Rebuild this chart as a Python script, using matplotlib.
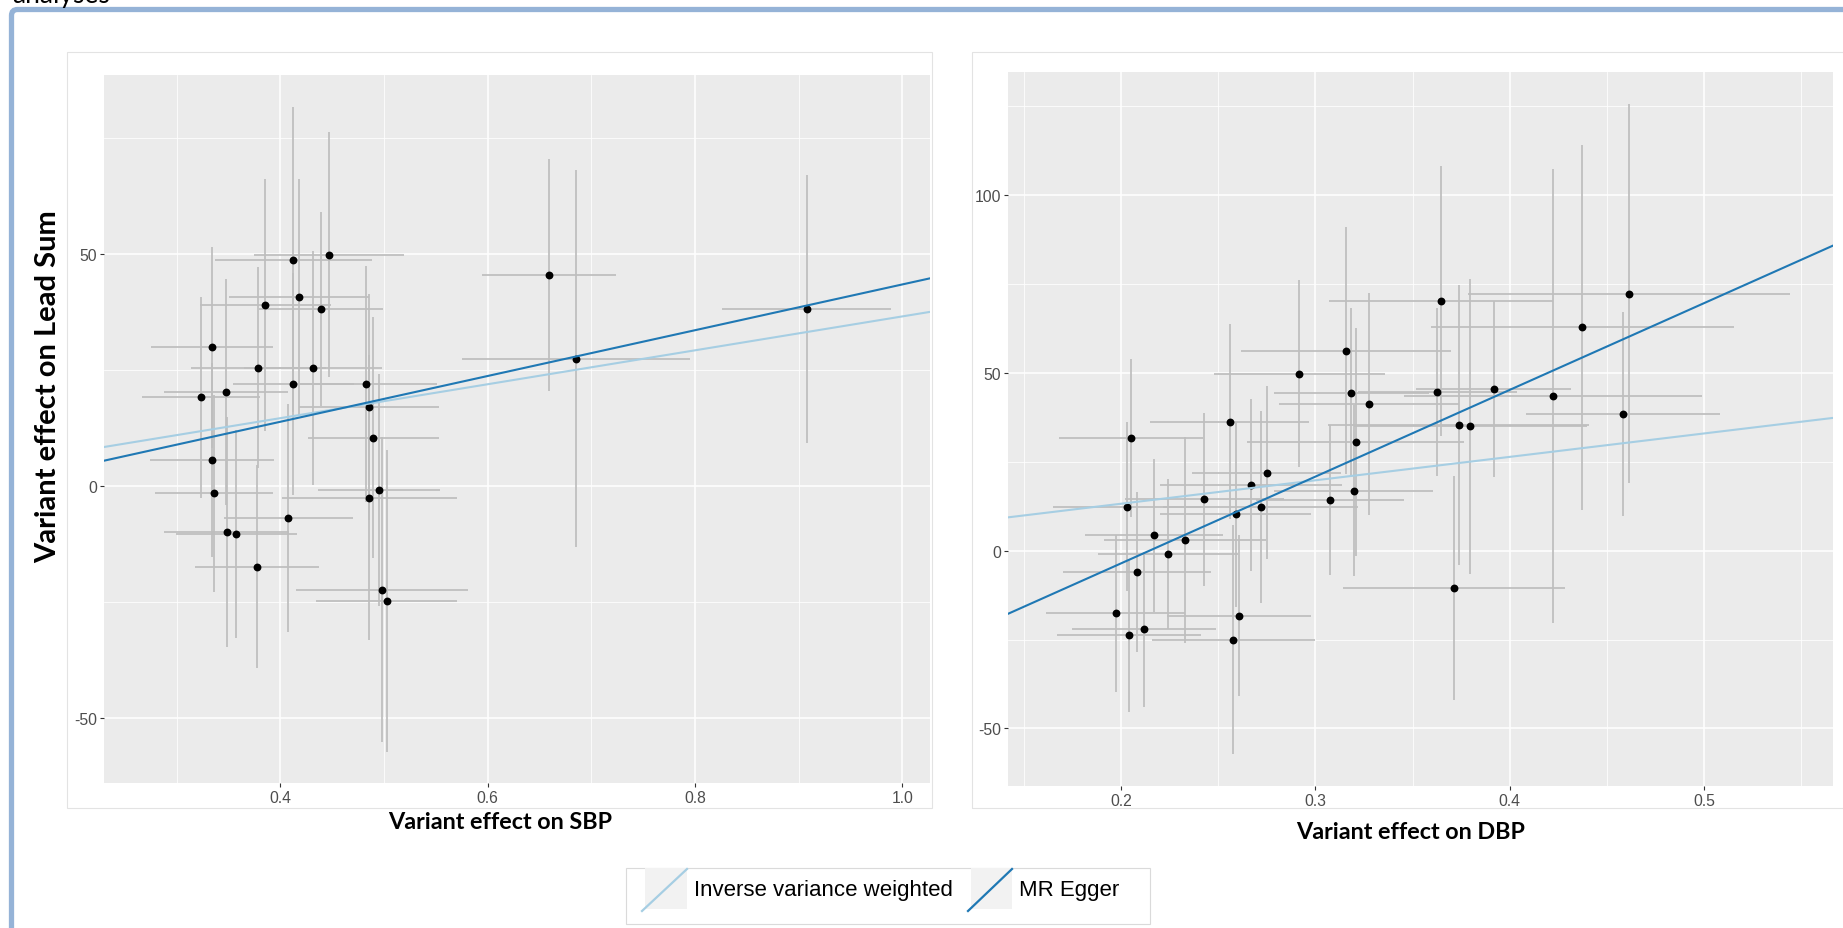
import matplotlib
matplotlib.use("Agg")
import matplotlib.pyplot as plt
from matplotlib.patches import Rectangle, FancyBboxPatch
from matplotlib.lines import Line2D
from matplotlib.transforms import IdentityTransform

plt.rcParams['font.family'] = ['Liberation Sans', 'DejaVu Sans']
plt.rcParams['axes.unicode_minus'] = False

W, H = 1843, 929

# --- SBP panel: per-variant effect on SBP (x) and on lead sum (y), with SEs
sbp_x = [0.4125, 0.447, 0.4177, 0.3855, 0.439, 0.3338, 0.3788, 0.4318, 0.4125,
         0.483, 0.3476, 0.3235, 0.4859, 0.4897, 0.3338, 0.3357, 0.4949, 0.4859,
         0.4077, 0.3482, 0.3576, 0.3775, 0.498, 0.5026, 0.659, 0.685, 0.908]
sbp_x_se = [0.0755, 0.0725, 0.0675, 0.063, 0.060, 0.0587, 0.065, 0.0665, 0.0585,
            0.0685, 0.0595, 0.057, 0.0675, 0.0634, 0.060, 0.057, 0.059, 0.0843,
            0.0624, 0.060, 0.058, 0.0595, 0.0828, 0.068, 0.0645, 0.110, 0.0815]
sbp_y = [48.85, 49.9, 40.8, 39.1, 38.2, 29.9, 25.5, 25.5, 22.0,
         22.0, 20.3, 19.1, 17.05, 10.4, 5.6, -1.6, -0.8, -2.5,
         -6.9, -10.0, -10.4, -17.4, -22.4, -24.8, 45.5, 27.5, 38.2]
sbp_y_se = [32.9, 26.4, 25.5, 27.2, 21.0, 21.6, 21.7, 25.3, 24.0,
            25.4, 24.4, 21.6, 24.4, 26.0, 21.0, 21.3, 25.0, 30.7,
            24.6, 24.8, 22.4, 21.9, 32.9, 32.6, 25.0, 40.6, 29.0]
sbp_ivw_slope = 36.6
sbp_egger_slope = 49.4
sbp_egger_int = -5.9

# --- DBP panel
dbp_x = [0.4614, 0.3646, 0.4374, 0.3157, 0.2917, 0.3186, 0.3627, 0.3917, 0.4223,
         0.3276, 0.4583, 0.2559, 0.3737, 0.3797, 0.2051, 0.3207, 0.2749, 0.2669,
         0.3197, 0.2429, 0.3077, 0.2031, 0.2718, 0.259, 0.217, 0.2329, 0.224,
         0.2081, 0.3714, 0.1973, 0.2609, 0.212, 0.2041, 0.2578]
dbp_x_se = [0.083, 0.0575, 0.078, 0.054, 0.044, 0.040, 0.041, 0.040, 0.0766,
            0.0465, 0.050, 0.041, 0.067, 0.060, 0.037, 0.0557, 0.0382, 0.0466,
            0.041, 0.041, 0.038, 0.0379, 0.050, 0.039, 0.0357, 0.0417, 0.036,
            0.038, 0.057, 0.0357, 0.037, 0.037, 0.037, 0.042]
dbp_y = [72.3, 70.1, 62.8, 56.2, 49.8, 44.4, 44.6, 45.5, 43.5,
         41.2, 38.3, 36.3, 35.4, 35.0, 31.7, 30.5, 21.9, 18.4,
         16.9, 14.4, 14.2, 12.3, 12.4, 10.2, 4.3, 3.0, -1.0,
         -6.1, -10.5, -17.6, -18.3, -22.1, -23.8, -25.1]
dbp_y_se = [53.4, 38.0, 51.4, 34.7, 26.4, 23.8, 23.7, 24.7, 63.9,
            31.2, 28.7, 27.3, 39.4, 41.5, 22.2, 32.1, 24.4, 24.2,
            24.1, 24.3, 21.2, 23.8, 27.0, 26.0, 21.5, 29.0, 21.0,
            22.5, 31.6, 22.1, 22.6, 21.8, 21.5, 32.2]
dbp_ivw_slope = 65.9
dbp_egger_slope = 244.0
dbp_egger_int = -52.4

legend_labels = ["Inverse variance weighted", "MR Egger"]
ivw_col = "#A6CEE3"
egger_col = "#1F78B4"


def fig_box(x0, y0, x1, y1):
    # pixel box (top-left origin) -> figure fraction rect
    return [x0 / W, 1 - y1 / H, (x1 - x0) / W, (y1 - y0) / H]


fig = plt.figure(figsize=(W / 100, H / 100), dpi=100)
fig.patch.set_facecolor("white")
pix = IdentityTransform()

# screenshot frame + panel boxes
fig.patches.append(FancyBboxPatch((11.5, -20), 1900, H - 10.5 + 20,
                                  boxstyle="round,pad=0,rounding_size=6",
                                  fill=False, edgecolor="#95B3D7", lw=3.8,
                                  transform=pix, figure=fig))
for x0, x1 in [(67, 932), (972, 1860)]:
    fig.patches.append(Rectangle((x0, H - 809), x1 - x0, 809 - 53, fill=False,
                                 edgecolor="#E3E3E3", lw=0.8,
                                 transform=pix, figure=fig))
# caption of the page above, cut off by the screenshot edge
fig.text(12 / W, 1 - 3 / H, "analyses", fontsize=19, family=["Lato", "DejaVu Sans"],
         va="baseline", ha="left")

panels = [
    dict(rect=fig_box(104, 76, 930, 784), x=sbp_x, xs=sbp_x_se, y=sbp_y, ys=sbp_y_se,
         ivw=sbp_ivw_slope, eg=(sbp_egger_int, sbp_egger_slope),
         xlim=(0.2299, 1.0267), ylim=(-64.1, 88.7),
         xmaj=[0.4, 0.6, 0.8, 1.0], xmin=[0.3, 0.5, 0.7, 0.9],
         ymaj=[-50, 0, 50], ymin=[-25, 25, 75]),
    dict(rect=fig_box(1008, 73, 1833, 787), x=dbp_x, xs=dbp_x_se, y=dbp_y, ys=dbp_y_se,
         ivw=dbp_ivw_slope, eg=(dbp_egger_int, dbp_egger_slope),
         xlim=(0.1419, 0.5663), ylim=(-66.2, 134.6),
         xmaj=[0.2, 0.3, 0.4, 0.5], xmin=[0.15, 0.25, 0.35, 0.45, 0.55],
         ymaj=[-50, 0, 50, 100], ymin=[-25, 25, 75, 125]),
]

for p in panels:
    ax = fig.add_axes(p["rect"])
    ax.set_facecolor("#EBEBEB")
    for s in ax.spines.values():
        s.set_visible(False)
    ax.errorbar(p["x"], p["y"], xerr=p["xs"], yerr=p["ys"], fmt="none",
                ecolor="#BEBEBE", elinewidth=1.25, capsize=0, zorder=2)
    ax.scatter(p["x"], p["y"], s=32, c="black", linewidths=0, zorder=3)
    ax.axline((0, 0), slope=p["ivw"], color=ivw_col, lw=1.5, zorder=4)
    ax.axline((0, p["eg"][0]), slope=p["eg"][1], color=egger_col, lw=1.5, zorder=4)
    ax.set_xlim(*p["xlim"])
    ax.set_ylim(*p["ylim"])
    ax.set_xticks(p["xmaj"])
    ax.set_xticklabels([f"{v:.1f}" for v in p["xmaj"]])
    ax.set_xticks(p["xmin"], minor=True)
    ax.set_yticks(p["ymaj"])
    ax.set_yticks(p["ymin"], minor=True)
    ax.set_axisbelow(True)
    ax.grid(which="major", color="white", lw=1.1)
    ax.grid(which="minor", color="white", lw=0.55)
    ax.tick_params(which="major", length=3.2, width=0.8, color="#333333",
                   labelcolor="#4D4D4D", labelsize=11.3, pad=2)
    ax.tick_params(which="minor", length=0)

lab = dict(family=["Lato", "DejaVu Sans"], fontweight="bold", color="black")
fig.text(48 / W, 1 - 387 / H, "Variant effect on Lead Sum", rotation=90,
         ha="center", va="center", fontsize=21, **lab)
fig.text(500 / W, 1 - 823 / H, "Variant effect on SBP", ha="center", va="center",
         fontsize=16.8, **lab)
fig.text(1411 / W, 1 - 833 / H, "Variant effect on DBP", ha="center", va="center",
         fontsize=16.8, **lab)

# legend drawn by hand (diagonal abline key glyphs, as in ggplot)
fig.patches.append(Rectangle((626, H - 925), 524, 56, facecolor="white",
                             edgecolor="#DADADA", lw=0.8, transform=pix, figure=fig))
keys = [(645, 687, 694), (971, 1012, 1019)]
for (k0, k1, tx), col, name in zip(keys, [ivw_col, egger_col], legend_labels):
    fig.patches.append(Rectangle((k0, H - 910), k1 - k0, 41, facecolor="#F2F2F2",
                                 edgecolor="none", transform=pix, figure=fig))
    fig.lines.append(Line2D([k0 - 3, k1], [H - 912, H - 870], color=col, lw=1.6,
                            transform=pix, figure=fig))
    fig.text(tx / W, 1 - 891 / H, name, ha="left", va="center", fontsize=16,
             color="black")

fig.savefig("out.png", dpi=100, facecolor="white")
